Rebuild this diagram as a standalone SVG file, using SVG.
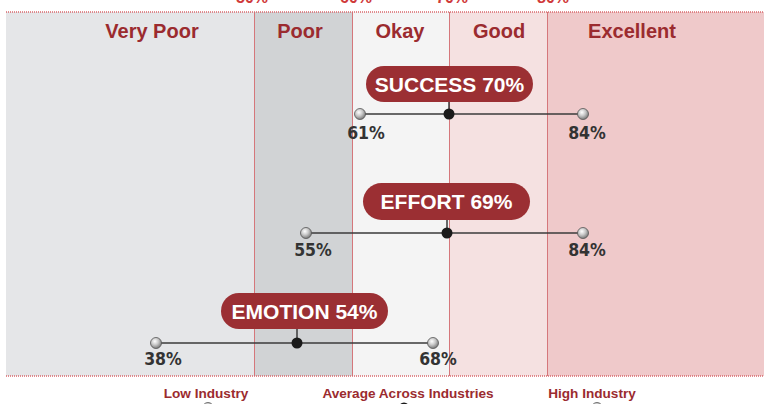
<svg xmlns="http://www.w3.org/2000/svg" width="764" height="404" viewBox="0 0 764 404">
<defs>
<radialGradient id="knob" cx="40%" cy="35%" r="65%">
<stop offset="0" stop-color="#ffffff"/>
<stop offset="0.5" stop-color="#c8c8c8"/>
<stop offset="1" stop-color="#7a7a7a"/>
</radialGradient>
<style>
.band-title{font-family:"Liberation Sans",Arial,sans-serif;font-weight:bold;font-size:20px;fill:#9b2b2f;text-anchor:middle}
.scale{font-family:"Liberation Sans",Arial,sans-serif;font-weight:bold;font-size:16px;fill:#d03a3a;text-anchor:middle}
.pill{fill:#9b2f33}
.pill-text{font-family:"Liberation Sans",Arial,sans-serif;font-weight:bold;font-size:21px;fill:#ffffff;text-anchor:middle}
.val{font-family:"DejaVu Sans Condensed","Liberation Sans",sans-serif;font-stretch:condensed;font-weight:bold;font-size:17.5px;fill:#333333;text-anchor:middle}
.legend{font-family:"Liberation Sans",Arial,sans-serif;font-weight:bold;font-size:13.6px;fill:#9b2b2f;text-anchor:middle}
.bar{stroke:#3a3a3a;stroke-width:1.5}
.knob{fill:url(#knob);stroke:#555;stroke-width:0.8}
.dot{fill:#1a1a1a}
.divider{stroke:#d5777b;stroke-width:1}
.dotted{stroke:#d9686c;stroke-width:1.5;stroke-dasharray:1 1}
</style>
</defs>
<rect width="764" height="404" fill="#ffffff"/>
<g id="bands">
<rect x="6" y="12" width="248" height="364" fill="#e5e6e8"/>
<rect x="254" y="12" width="98" height="364" fill="#d1d3d5"/>
<rect x="352" y="12" width="97" height="364" fill="#f4f4f4"/>
<rect x="449" y="12" width="98" height="364" fill="#f5e1e1"/>
<rect x="547" y="12" width="217" height="364" fill="#efc9ca"/>
<line class="divider" x1="254.5" y1="12" x2="254.5" y2="376"/>
<line class="divider" x1="352.5" y1="12" x2="352.5" y2="376" stroke="#e4a9ab"/>
<line class="divider" x1="449.5" y1="12" x2="449.5" y2="376"/>
<line class="divider" x1="547.5" y1="12" x2="547.5" y2="376"/>
<line class="dotted" x1="6" y1="12" x2="764" y2="12"/>
<line class="dotted" x1="6" y1="376" x2="764" y2="376"/>
<text class="band-title" x="152" y="38">Very Poor</text>
<text class="band-title" x="300" y="38">Poor</text>
<text class="band-title" x="400" y="38">Okay</text>
<text class="band-title" x="499" y="38">Good</text>
<text class="band-title" x="632" y="38">Excellent</text>
<text class="scale" x="252" y="3">50%</text>
<text class="scale" x="356" y="3">60%</text>
<text class="scale" x="452" y="3">70%</text>
<text class="scale" x="553" y="3">80%</text>
</g>
<g id="connectors">
<line class="bar" x1="360" y1="114" x2="583" y2="114"/>
<line class="bar" x1="449" y1="101" x2="449" y2="114"/>
<line class="bar" x1="306" y1="233" x2="583" y2="233"/>
<line class="bar" x1="447" y1="219" x2="447" y2="233"/>
<line class="bar" x1="156" y1="343" x2="433" y2="343"/>
<line class="bar" x1="297" y1="328" x2="297" y2="343"/>
</g>
<g id="success">
<rect class="pill" x="366" y="66" width="167" height="36" rx="18"/>
<text class="pill-text" x="449.5" y="92">SUCCESS 70%</text>
<circle class="knob" cx="360" cy="114" r="5.5"/>
<circle class="knob" cx="583" cy="114" r="5.5"/>
<circle class="dot" cx="449" cy="114" r="5.5"/>
<text class="val" x="366" y="139">61%</text>
<text class="val" x="587" y="139">84%</text>
</g>
<g id="effort">
<rect class="pill" x="363" y="183" width="167" height="37" rx="18.5"/>
<text class="pill-text" x="446.5" y="209">EFFORT 69%</text>
<circle class="knob" cx="306" cy="233" r="5.5"/>
<circle class="knob" cx="583" cy="233" r="5.5"/>
<circle class="dot" cx="447" cy="233" r="5.5"/>
<text class="val" x="313" y="256">55%</text>
<text class="val" x="587" y="256">84%</text>
</g>
<g id="emotion">
<rect class="pill" x="221" y="293" width="167" height="36" rx="18"/>
<text class="pill-text" x="304.5" y="319">EMOTION 54%</text>
<circle class="knob" cx="156" cy="343" r="5.5"/>
<circle class="knob" cx="433" cy="343" r="5.5"/>
<circle class="dot" cx="297" cy="343" r="5.5"/>
<text class="val" x="163" y="365">38%</text>
<text class="val" x="438" y="365">68%</text>
</g>
<g id="legend">
<text class="legend" x="206" y="398">Low Industry</text>
<circle class="knob" cx="208" cy="408" r="5.5"/>
<text class="legend" x="408" y="398">Average Across Industries</text>
<circle class="dot" cx="404" cy="408" r="5.5"/>
<text class="legend" x="592" y="398">High Industry</text>
<circle class="knob" cx="597" cy="408" r="5.5"/>
</g>
</svg>
